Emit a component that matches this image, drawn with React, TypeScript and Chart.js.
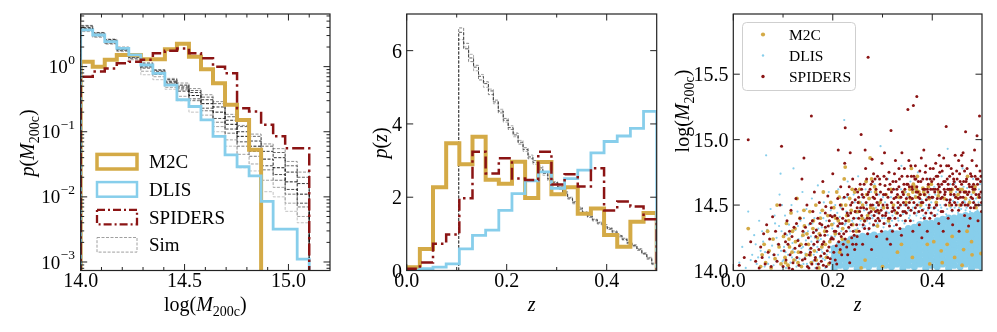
import React, { useEffect, useRef } from 'react';
import { Chart, registerables } from 'chart.js';
Chart.register(...registerables);

const FONT = '"Liberation Serif", "Times New Roman", serif';
const GOLD = '#D4AA46';
const SKY = '#87CEEB';
const DARKRED = '#8B1414';

// ---------------- Panel 1: mass histograms ----------------
const massBinLo = 14.0;
const massBinHi = 15.1;
const massBinCount = 19;
const m2cMass = [1.19, 1.0, 1.27, 1.51, 1.51, 1.3, 1.3, 1.85, 2.25, 1.42, 0.91, 0.556, 0.259, 0.152, 0.053];
const dlisMass = [3.66, 3.06, 2.42, 1.91, 1.51, 1.06, 0.79, 0.52, 0.31, 0.244, 0.152, 0.085, 0.044, 0.029, 0.021, 0.0085, 0.0032, 0.0032, 0.00111];
const spidersMass = [0.7, 0.84, 0.94, 1.13, 1.19, 1.27, 1.6, 1.75, 1.9, 1.6, 1.35, 1.0, 0.79, 0.23, 0.204, 0.128, 0.085, 0.056, 0.056];
const simMass1 = [3.9, 3.1, 2.45, 1.85, 1.42, 1.02, 0.82, 0.58, 0.47, 0.36, 0.27, 0.2, 0.13, 0.085, 0.06, 0.038, 0.028, 0.017, 0.011];
const simMass2 = [4.2, 3.3, 2.6, 1.95, 1.5, 1.1, 0.88, 0.63, 0.52, 0.4, 0.31, 0.24, 0.15, 0.1, 0.072, 0.05, 0.04, 0.024, 0.016];
const simMass3 = [3.6, 2.95, 2.3, 1.78, 1.35, 0.95, 0.76, 0.54, 0.42, 0.32, 0.23, 0.16, 0.11, 0.07, 0.05, 0.03, 0.022, 0.013, 0.008];
const simMass4 = [4.0, 3.2, 2.5, 1.9, 1.45, 1.06, 0.85, 0.6, 0.5, 0.43, 0.34, 0.27, 0.17, 0.12, 0.085, 0.06, 0.048, 0.03, 0.02];
const simMass5 = [3.8, 3.05, 2.4, 1.82, 1.38, 0.98, 0.79, 0.56, 0.44, 0.3, 0.21, 0.14, 0.095, 0.06, 0.042, 0.026, 0.018, 0.011, 0.007];
const simMass6 = [4.3, 3.35, 2.65, 2.0, 1.52, 1.15, 0.9, 0.66, 0.56, 0.46, 0.37, 0.29, 0.185, 0.125, 0.092, 0.065, 0.055, 0.035, 0.024];
const simMass7 = [3.5, 2.85, 2.25, 1.72, 1.3, 0.85, 0.7, 0.48, 0.35, 0.25, 0.18, 0.12, 0.075, 0.045, 0.032, 0.018, 0.014, 0.008, 0.005];
const simMass8 = [3.45, 2.8, 2.2, 1.7, 1.27, 0.75, 0.63, 0.45, 0.3, 0.2, 0.15, 0.1, 0.06, 0.028, 0.025, 0.012, 0.01, 0.006, 0.004];
const simMassRuns = [simMass1, simMass2, simMass3, simMass4, simMass5, simMass6, simMass7, simMass8];
const simShades = ['#000000', '#222222', '#3a3a3a', '#555555', '#666666', '#888888', '#9a9a9a', '#bbbbbb'];

const massTicks = [14.0, 14.5, 15.0];
const massTickLabels = ['14.0', '14.5', '15.0'];
const massMinorTicks = [14.1, 14.2, 14.3, 14.4, 14.6, 14.7, 14.8, 14.9, 15.1];
const densityDecades = [1, 0.1, 0.01, 0.001];
const densityExponents = ['0', '\u22121', '\u22122', '\u22123'];

// ---------------- Panel 2: redshift histograms ----------------
const zBinLo = 0.0;
const zBinHi = 0.5;
const zBinCount = 19;
const m2cZ = [0.09, 0.59, 2.27, 3.47, 2.9, 3.65, 2.48, 2.37, 2.97, 1.98, 2.96, 2.08, 2.27, 1.55, 1.69, 0.97, 0.65, 1.33, 1.57];
const dlisZ = [0.01, 0.05, 0.09, 0.18, 0.59, 0.96, 1.1, 1.64, 2.1, 2.45, 2.69, 2.24, 2.51, 2.74, 3.21, 3.52, 3.67, 3.88, 4.34];
const spidersZ = [0.05, 0.22, 0.73, 0.98, 1.97, 3.24, 2.65, 3.06, 2.51, 2.47, 3.24, 2.35, 2.63, 2.29, 2.79, 1.64, 1.88, 1.75, 1.4];
const simZLo = 0.104;
const simZHi = 0.5;
const simZBinCount = 40;
const simZ1 = [6.5, 6.05, 5.8, 5.55, 5.3, 5.1, 4.9, 4.6, 4.35, 4.1, 3.9, 3.7, 3.5, 3.3, 3.1, 2.95, 2.8, 2.65, 2.5, 2.4, 2.28, 2.12, 1.98, 1.85, 1.7, 1.56, 1.48, 1.38, 1.3, 1.22, 1.15, 1.05, 0.95, 0.85, 0.76, 0.68, 0.58, 0.46, 0.34, 0.18];
const simZ2 = [6.62, 6.2, 5.7, 5.6, 5.2, 5.15, 4.8, 4.65, 4.3, 4.15, 3.85, 3.75, 3.45, 3.35, 3.05, 3.0, 2.75, 2.7, 2.45, 2.42, 2.22, 2.15, 1.95, 1.88, 1.66, 1.6, 1.45, 1.4, 1.27, 1.25, 1.12, 1.08, 0.92, 0.88, 0.73, 0.7, 0.55, 0.48, 0.31, 0.2];
const simZ3 = [6.3, 6.1, 5.9, 5.45, 5.35, 5.0, 4.95, 4.55, 4.4, 4.05, 3.95, 3.65, 3.55, 3.25, 3.15, 2.9, 2.85, 2.6, 2.55, 2.36, 2.3, 2.1, 2.0, 1.82, 1.73, 1.53, 1.5, 1.35, 1.32, 1.2, 1.17, 1.02, 0.97, 0.83, 0.78, 0.65, 0.6, 0.44, 0.36, 0.16];
const simZRuns = [simZ1, simZ2, simZ3];
const simZShades = ['#333333', '#666666', '#999999'];

const zTicks = [0.0, 0.2, 0.4];
const zTickLabels = ['0.0', '0.2', '0.4'];
const zMinorTicks = [0.1, 0.3];
const pzTicks = [0, 2, 4, 6];
const pzTickLabels = ['0', '2', '4', '6'];

// ---------------- Panel 3: scatter ----------------
const scatterMassTicks = [14.0, 14.5, 15.0, 15.5];
const scatterMassLabels = ['14.0', '14.5', '15.0', '15.5'];

// dense DLIS core, one column of logM values per redshift
const dlisCoreZ = [0.203, 0.214, 0.226, 0.237, 0.249, 0.26, 0.272, 0.283, 0.295, 0.306, 0.318, 0.329, 0.341, 0.352, 0.364, 0.375, 0.387, 0.398, 0.41, 0.421, 0.433, 0.444, 0.456, 0.467, 0.479, 0.49, 0.499];
const dlisCoreM = [
  [14.02, 14.06, 14.1, 14.14, 14.17],
  [14.04, 14.08, 14.12, 14.16, 14.2],
  [14.03, 14.07, 14.1, 14.14, 14.18, 14.22],
  [14.05, 14.08, 14.12, 14.16, 14.2, 14.24],
  [14.02, 14.06, 14.1, 14.14, 14.18, 14.21, 14.25],
  [14.04, 14.08, 14.12, 14.16, 14.2, 14.23, 14.26],
  [14.03, 14.06, 14.1, 14.14, 14.18, 14.22, 14.26],
  [14.05, 14.08, 14.12, 14.16, 14.2, 14.24, 14.27],
  [14.02, 14.06, 14.1, 14.14, 14.18, 14.22, 14.26],
  [14.04, 14.08, 14.12, 14.16, 14.2, 14.24, 14.28],
  [14.03, 14.07, 14.1, 14.14, 14.18, 14.22, 14.26, 14.29],
  [14.05, 14.08, 14.12, 14.16, 14.2, 14.24, 14.28],
  [14.02, 14.06, 14.1, 14.14, 14.18, 14.22, 14.26, 14.3],
  [14.04, 14.08, 14.12, 14.16, 14.2, 14.24, 14.28, 14.32],
  [14.03, 14.07, 14.1, 14.14, 14.18, 14.22, 14.26, 14.3, 14.33],
  [14.05, 14.08, 14.12, 14.16, 14.2, 14.24, 14.28, 14.32, 14.35],
  [14.02, 14.06, 14.1, 14.14, 14.18, 14.22, 14.26, 14.3, 14.34, 14.36],
  [14.04, 14.08, 14.12, 14.16, 14.2, 14.24, 14.28, 14.32, 14.36],
  [14.03, 14.07, 14.1, 14.14, 14.18, 14.22, 14.26, 14.3, 14.34, 14.38],
  [14.05, 14.08, 14.12, 14.16, 14.2, 14.24, 14.28, 14.32, 14.36, 14.39],
  [14.02, 14.06, 14.1, 14.14, 14.18, 14.22, 14.26, 14.3, 14.34, 14.38, 14.4],
  [14.04, 14.08, 14.12, 14.16, 14.2, 14.24, 14.28, 14.32, 14.36, 14.4],
  [14.03, 14.07, 14.1, 14.14, 14.18, 14.22, 14.26, 14.3, 14.34, 14.38, 14.41],
  [14.05, 14.08, 14.12, 14.16, 14.2, 14.24, 14.28, 14.32, 14.36, 14.4, 14.42],
  [14.02, 14.06, 14.1, 14.14, 14.18, 14.22, 14.26, 14.3, 14.34, 14.38, 14.42],
  [14.04, 14.08, 14.12, 14.16, 14.2, 14.24, 14.28, 14.32, 14.36, 14.4, 14.43],
  [14.03, 14.07, 14.1, 14.14, 14.18, 14.22, 14.26, 14.3, 14.34, 14.38, 14.42],
];

const dlisSparse: [number, number][] = [
  [0.012, 14.06], [0.018, 14.18], [0.025, 14.02], [0.03, 14.45], [0.038, 14.12], [0.042, 14.27], [0.047, 14.05], [0.052, 14.38], [0.055, 14.15], [0.06, 14.22], [0.063, 14.03], [0.066, 14.88], [0.068, 14.31], [0.072, 14.1], [0.075, 14.47], [0.078, 14.19], [0.081, 14.04], [0.084, 14.36], [0.087, 14.25], [0.09, 14.12], [0.093, 14.58], [0.095, 14.74], [0.097, 14.3], [0.099, 14.07],
  [0.102, 14.18], [0.104, 14.42], [0.106, 14.02], [0.108, 14.27], [0.11, 14.12], [0.112, 14.35], [0.115, 14.06], [0.117, 14.5], [0.119, 14.21], [0.121, 14.78], [0.123, 14.14], [0.125, 14.31], [0.127, 14.03], [0.129, 14.45], [0.131, 14.24], [0.133, 14.09], [0.135, 14.38], [0.137, 14.17], [0.139, 14.6], [0.141, 14.05], [0.143, 14.29], [0.145, 14.13], [0.147, 14.47], [0.149, 14.2],
  [0.151, 14.03], [0.152, 14.35], [0.154, 14.11], [0.156, 14.26], [0.158, 14.55], [0.16, 14.07], [0.161, 14.19], [0.163, 14.4], [0.165, 14.02], [0.166, 14.3], [0.168, 14.14], [0.17, 14.65], [0.172, 14.23], [0.173, 14.05], [0.175, 14.44], [0.177, 14.16], [0.178, 14.33], [0.18, 14.09], [0.182, 14.52], [0.183, 14.21], [0.185, 14.02], [0.187, 14.38], [0.188, 14.12], [0.19, 14.27], [0.192, 14.6], [0.193, 14.06], [0.195, 14.18], [0.196, 14.46], [0.198, 14.1], [0.199, 14.32],
  [0.202, 14.36], [0.205, 14.5], [0.208, 14.28], [0.211, 14.62], [0.214, 14.41], [0.217, 14.3], [0.22, 14.55], [0.223, 15.15], [0.224, 14.35], [0.227, 14.45], [0.23, 14.68], [0.233, 14.32], [0.236, 14.5], [0.239, 14.38], [0.242, 14.58], [0.245, 14.31], [0.248, 14.44], [0.251, 14.72], [0.254, 14.35], [0.257, 14.52], [0.26, 14.33], [0.263, 14.46], [0.266, 14.62], [0.269, 14.38], [0.272, 14.31], [0.275, 14.55], [0.278, 14.42], [0.281, 14.34], [0.284, 14.66], [0.287, 14.48], [0.29, 14.36], [0.293, 14.58], [0.296, 14.95], [0.299, 14.4],
  [0.302, 14.33], [0.305, 14.52], [0.308, 14.45], [0.311, 14.7], [0.314, 14.36], [0.317, 14.56], [0.32, 14.42], [0.323, 14.34], [0.326, 14.62], [0.329, 14.48], [0.332, 14.38], [0.335, 14.55], [0.338, 14.8], [0.341, 14.43], [0.344, 14.36], [0.347, 14.6], [0.35, 14.5], [0.353, 14.4], [0.356, 14.68], [0.359, 14.46], [0.362, 14.38], [0.365, 14.57], [0.368, 14.42], [0.371, 14.75], [0.374, 14.52], [0.377, 14.4], [0.38, 14.62], [0.383, 14.47], [0.386, 14.41], [0.389, 14.56], [0.392, 14.7], [0.395, 14.44], [0.398, 14.52],
  [0.401, 14.42], [0.404, 14.64], [0.407, 14.48], [0.41, 14.43], [0.413, 14.58], [0.416, 14.5], [0.419, 14.72], [0.422, 14.45], [0.425, 14.55], [0.428, 14.43], [0.431, 14.93], [0.434, 14.62], [0.437, 14.48], [0.44, 14.45], [0.443, 14.57], [0.446, 14.67], [0.449, 14.5], [0.452, 14.44], [0.455, 14.6], [0.458, 14.47], [0.461, 14.78], [0.464, 14.53], [0.467, 14.46], [0.47, 14.63], [0.473, 14.5], [0.476, 14.45], [0.479, 14.58], [0.482, 14.7], [0.485, 14.48], [0.488, 14.55], [0.491, 14.46], [0.494, 14.62], [0.497, 14.5], [0.499, 15.0],
];
const dlisSparseMore: [number, number][] = [
  [0.035, 14.08], [0.045, 14.2], [0.05, 14.1], [0.058, 14.3], [0.064, 14.14], [0.07, 14.05], [0.074, 14.24], [0.08, 14.12], [0.083, 14.42], [0.086, 14.07], [0.089, 14.2], [0.092, 14.34], [0.096, 14.15], [0.098, 14.5],
  [0.101, 14.08], [0.105, 14.14], [0.109, 14.2], [0.111, 14.04], [0.114, 14.28], [0.118, 14.1], [0.12, 14.16], [0.124, 14.22], [0.126, 14.08], [0.13, 14.34], [0.132, 14.14], [0.136, 14.04], [0.138, 14.26], [0.14, 14.18], [0.142, 14.4], [0.144, 14.1], [0.146, 14.23], [0.148, 14.05], [0.15, 14.3], [0.153, 14.16], [0.155, 14.06], [0.157, 14.22], [0.159, 14.36], [0.162, 14.12], [0.164, 14.25], [0.167, 14.05], [0.169, 14.18], [0.171, 14.32], [0.174, 14.1], [0.176, 14.24], [0.179, 14.14], [0.181, 14.4], [0.184, 14.08], [0.186, 14.2], [0.189, 14.34], [0.191, 14.04], [0.194, 14.14], [0.197, 14.26], [0.199, 14.06],
  [0.204, 14.26], [0.209, 14.44], [0.212, 14.33], [0.216, 14.48], [0.219, 14.4], [0.222, 14.28], [0.226, 14.36], [0.229, 14.56], [0.232, 14.42], [0.235, 14.3], [0.238, 14.46], [0.241, 14.36], [0.244, 14.52], [0.247, 14.4], [0.25, 14.32], [0.253, 14.46], [0.256, 14.38], [0.259, 14.56], [0.262, 14.4], [0.265, 14.34], [0.268, 14.5], [0.271, 14.44], [0.274, 14.36], [0.277, 14.6], [0.28, 14.4], [0.283, 14.5], [0.286, 14.34], [0.289, 14.44], [0.292, 14.52], [0.295, 14.38], [0.298, 14.48],
  [0.301, 14.56], [0.304, 14.4], [0.307, 14.36], [0.31, 14.5], [0.313, 14.44], [0.316, 14.62], [0.319, 14.38], [0.322, 14.5], [0.325, 14.44], [0.328, 14.56], [0.331, 14.4], [0.334, 14.48], [0.337, 14.62], [0.34, 14.38], [0.343, 14.5], [0.346, 14.44], [0.349, 14.56], [0.352, 14.46], [0.355, 14.42], [0.358, 14.54], [0.361, 14.48], [0.364, 14.62], [0.367, 14.5], [0.37, 14.44], [0.373, 14.58], [0.376, 14.48], [0.379, 14.54], [0.382, 14.42], [0.385, 14.62], [0.388, 14.5], [0.391, 14.46], [0.394, 14.58], [0.397, 14.48],
  [0.4, 14.55], [0.403, 14.47], [0.406, 14.58], [0.409, 14.52], [0.412, 14.46], [0.415, 14.64], [0.418, 14.48], [0.421, 14.56], [0.424, 14.5], [0.427, 14.6], [0.43, 14.47], [0.433, 14.54], [0.436, 14.66], [0.439, 14.5], [0.442, 14.53], [0.445, 14.48], [0.448, 14.6], [0.451, 14.52], [0.454, 14.48], [0.457, 14.56], [0.46, 14.5], [0.463, 14.64], [0.466, 14.52], [0.469, 14.48], [0.472, 14.58], [0.475, 14.54], [0.478, 14.48], [0.481, 14.62], [0.484, 14.53], [0.487, 14.48], [0.49, 14.58], [0.493, 14.52], [0.496, 14.66], [0.499, 14.55],
];

const spidersPts: [number, number][] = [
  [0.012, 14.04], [0.022, 14.1], [0.03, 15.0], [0.035, 14.22], [0.045, 14.07],
  [0.052, 14.02], [0.055, 14.18], [0.058, 14.1], [0.061, 14.28], [0.064, 14.05], [0.067, 14.35], [0.07, 14.14], [0.073, 14.24], [0.076, 14.03], [0.079, 14.41], [0.082, 14.12], [0.085, 14.3], [0.088, 14.07], [0.091, 14.2], [0.094, 14.5], [0.097, 14.95],
  [0.1, 14.03], [0.102, 14.15], [0.104, 14.28], [0.106, 14.08], [0.108, 14.38], [0.11, 14.2], [0.112, 14.02], [0.114, 14.12], [0.116, 14.46], [0.118, 14.26], [0.12, 14.06], [0.122, 14.33], [0.124, 14.17], [0.126, 14.55], [0.128, 14.1], [0.13, 14.23], [0.132, 14.04], [0.134, 14.4], [0.136, 14.14], [0.138, 14.7], [0.14, 14.3], [0.142, 14.86], [0.144, 14.09], [0.146, 14.2], [0.148, 14.5], [0.149, 14.03],
  [0.151, 14.25], [0.153, 14.12], [0.155, 14.36], [0.157, 15.18], [0.158, 14.05], [0.16, 14.45], [0.162, 14.2], [0.163, 14.6], [0.165, 14.1], [0.167, 14.31], [0.168, 14.02], [0.17, 14.4], [0.172, 14.16], [0.173, 14.52], [0.175, 14.27], [0.177, 14.07], [0.178, 14.35], [0.18, 14.68], [0.182, 14.22], [0.183, 14.13], [0.185, 14.44], [0.187, 14.03], [0.188, 14.3], [0.19, 14.57], [0.192, 14.18], [0.193, 14.38], [0.195, 14.09], [0.197, 14.48], [0.198, 14.25], [0.2, 14.74],
  [0.202, 14.14], [0.204, 14.42], [0.206, 14.3], [0.208, 14.05], [0.21, 14.55], [0.212, 14.22], [0.214, 14.36], [0.216, 14.64], [0.218, 14.12], [0.22, 14.47], [0.222, 14.28], [0.224, 14.82], [0.225, 15.09], [0.226, 14.38], [0.228, 14.18], [0.23, 14.58], [0.232, 14.33], [0.234, 14.06], [0.236, 14.5], [0.238, 14.25], [0.24, 14.7], [0.242, 14.4], [0.244, 14.16], [0.246, 14.62], [0.248, 14.35], [0.249, 14.48], [0.211, 14.92], [0.217, 14.26], [0.229, 14.44], [0.241, 14.3], [0.235, 14.9], [0.247, 14.2],
  [0.251, 14.52], [0.253, 14.3], [0.255, 14.66], [0.257, 15.04], [0.258, 14.42], [0.26, 14.2], [0.262, 14.56], [0.264, 14.38], [0.266, 14.78], [0.268, 14.47], [0.27, 14.28], [0.271, 15.63], [0.272, 14.6], [0.274, 14.4], [0.276, 14.5], [0.278, 14.16], [0.28, 14.68], [0.282, 14.35], [0.284, 14.55], [0.286, 14.45], [0.288, 14.26], [0.29, 14.72], [0.292, 14.5], [0.294, 14.38], [0.296, 14.6], [0.298, 14.3], [0.265, 14.92], [0.279, 14.85], [0.287, 14.62], [0.293, 14.44], [0.259, 14.58], [0.299, 14.82],
  [0.301, 14.5], [0.303, 14.36], [0.305, 14.65], [0.307, 14.44], [0.309, 14.24], [0.311, 14.56], [0.313, 14.75], [0.315, 14.4], [0.317, 15.07], [0.318, 14.52], [0.32, 14.3], [0.322, 14.62], [0.324, 14.46], [0.326, 14.84], [0.328, 14.35], [0.33, 14.58], [0.332, 14.48], [0.334, 14.7], [0.336, 14.42], [0.338, 14.27], [0.34, 14.6], [0.342, 14.52], [0.344, 14.78], [0.346, 14.38], [0.348, 14.55], [0.349, 14.66], [0.304, 14.9], [0.316, 14.2], [0.327, 14.68], [0.339, 14.9], [0.345, 14.45], [0.335, 14.32],
  [0.351, 15.23], [0.352, 14.48], [0.354, 14.64], [0.356, 14.38], [0.358, 14.72], [0.36, 14.55], [0.362, 15.26], [0.364, 14.44], [0.366, 14.8], [0.368, 14.6], [0.369, 15.33], [0.37, 14.5], [0.372, 14.68], [0.374, 14.35], [0.376, 14.58], [0.378, 14.86], [0.38, 14.46], [0.382, 14.62], [0.384, 14.4], [0.386, 14.75], [0.388, 14.54], [0.39, 14.3], [0.392, 14.66], [0.394, 14.5], [0.396, 14.78], [0.398, 14.44], [0.353, 14.84], [0.361, 14.3], [0.367, 14.7], [0.375, 14.55], [0.383, 14.92], [0.391, 14.6], [0.379, 14.25], [0.397, 14.62],
  [0.401, 14.56], [0.403, 14.7], [0.405, 14.42], [0.407, 14.82], [0.409, 14.5], [0.411, 14.62], [0.413, 14.36], [0.415, 14.75], [0.417, 14.55], [0.419, 14.66], [0.421, 14.45], [0.423, 14.86], [0.425, 14.58], [0.427, 14.5], [0.428, 15.1], [0.43, 14.7], [0.432, 14.4], [0.434, 14.62], [0.436, 14.54], [0.438, 14.78], [0.44, 14.46], [0.442, 14.66], [0.444, 14.58], [0.446, 14.88], [0.448, 14.5], [0.406, 14.62], [0.414, 14.88], [0.422, 14.3], [0.433, 14.8], [0.441, 14.35],
  [0.451, 14.62], [0.453, 14.46], [0.455, 14.74], [0.457, 14.56], [0.459, 14.88], [0.461, 14.52], [0.463, 14.68], [0.465, 14.42], [0.467, 15.06], [0.468, 14.6], [0.47, 14.78], [0.472, 14.5], [0.474, 14.66], [0.476, 14.4], [0.478, 14.56], [0.48, 14.84], [0.482, 14.62], [0.484, 14.48], [0.486, 14.72], [0.488, 14.58], [0.49, 15.03], [0.491, 14.66], [0.493, 14.5], [0.495, 15.18], [0.496, 14.76], [0.498, 14.6], [0.499, 14.45], [0.454, 14.3], [0.462, 14.9], [0.473, 14.34], [0.485, 14.92], [0.492, 14.38],
];
const spidersPtsMore: [number, number][] = [
  [0.105, 14.22], [0.113, 14.3], [0.119, 14.01], [0.127, 14.36], [0.133, 14.19], [0.139, 14.08], [0.145, 14.33], [0.152, 14.02], [0.156, 14.17], [0.161, 14.29], [0.164, 14.08], [0.169, 14.22], [0.174, 14.36], [0.176, 14.11], [0.181, 14.04], [0.184, 14.27], [0.186, 14.49], [0.189, 14.15], [0.191, 14.34], [0.194, 14.06], [0.196, 14.24], [0.199, 14.41],
  [0.203, 14.3], [0.207, 14.19], [0.209, 14.4], [0.213, 14.28], [0.215, 14.5], [0.219, 14.36], [0.221, 14.2], [0.223, 14.56], [0.227, 14.3], [0.231, 14.42], [0.233, 14.64], [0.237, 14.35], [0.239, 14.52], [0.243, 14.27], [0.245, 14.45], [0.25, 14.6], [0.252, 14.4], [0.256, 14.48], [0.261, 14.35], [0.263, 14.66], [0.267, 14.52], [0.269, 14.4], [0.273, 14.32], [0.275, 14.62], [0.277, 14.45], [0.281, 14.56], [0.283, 14.42], [0.285, 14.7], [0.289, 14.52], [0.291, 14.4], [0.295, 14.66], [0.297, 14.46],
  [0.302, 14.58], [0.306, 14.42], [0.308, 14.7], [0.31, 14.48], [0.312, 14.62], [0.314, 14.34], [0.319, 14.45], [0.321, 14.68], [0.323, 14.55], [0.325, 14.4], [0.329, 14.62], [0.331, 14.52], [0.333, 14.78], [0.337, 14.56], [0.341, 14.45], [0.343, 14.66], [0.347, 14.5], [0.35, 14.72], [0.355, 14.56], [0.357, 14.46], [0.359, 14.64], [0.363, 14.52], [0.365, 14.7], [0.371, 14.6], [0.373, 14.45], [0.377, 14.68], [0.381, 14.52], [0.385, 14.62], [0.387, 14.44], [0.389, 14.7], [0.393, 14.56], [0.395, 14.4], [0.399, 14.68],
  [0.402, 14.62], [0.404, 14.48], [0.408, 14.72], [0.41, 14.55], [0.412, 14.66], [0.416, 14.6], [0.418, 14.45], [0.42, 14.76], [0.424, 14.62], [0.426, 14.68], [0.429, 14.54], [0.431, 14.62], [0.435, 14.72], [0.437, 14.58], [0.439, 14.5], [0.443, 14.7], [0.445, 14.52], [0.447, 14.64], [0.449, 14.76], [0.452, 14.55], [0.456, 14.68], [0.458, 14.5], [0.46, 14.8], [0.464, 14.6], [0.466, 14.5], [0.469, 14.7], [0.471, 14.58], [0.475, 14.64], [0.477, 14.48], [0.479, 14.72], [0.481, 14.55], [0.483, 14.66], [0.487, 14.5], [0.489, 14.7], [0.494, 14.58], [0.497, 14.68], [0.499, 14.52],
];
const spidersPtsExtra: [number, number][] = [
  [0.155, 14.14], [0.159, 14.38], [0.166, 14.26], [0.171, 14.05], [0.179, 14.2], [0.185, 14.33], [0.19, 14.1], [0.195, 14.42], [0.201, 14.24], [0.205, 14.08], [0.21, 14.34], [0.215, 14.16], [0.22, 14.4], [0.225, 14.24], [0.23, 14.12], [0.236, 14.44], [0.24, 14.2], [0.245, 14.54], [0.249, 14.26],
  [0.252, 14.56], [0.254, 14.45], [0.258, 14.62], [0.262, 14.48], [0.264, 14.32], [0.268, 14.7], [0.27, 14.58], [0.273, 14.44], [0.277, 14.66], [0.28, 14.5], [0.282, 14.74], [0.286, 14.38], [0.288, 14.58], [0.29, 14.46], [0.294, 14.7], [0.297, 14.54], [0.3, 14.42],
  [0.303, 14.72], [0.306, 14.58], [0.309, 14.5], [0.312, 14.4], [0.315, 14.66], [0.318, 14.6], [0.321, 14.48], [0.324, 14.74], [0.327, 14.56], [0.33, 14.44], [0.333, 14.64], [0.336, 14.5], [0.339, 14.72], [0.342, 14.58], [0.345, 14.62], [0.348, 14.44],
  [0.351, 14.66], [0.354, 14.52], [0.357, 14.8], [0.36, 14.62], [0.363, 14.72], [0.366, 14.48], [0.369, 14.64], [0.372, 14.56], [0.375, 14.76], [0.378, 14.52], [0.381, 14.7], [0.384, 14.58], [0.387, 14.8], [0.39, 14.62], [0.393, 14.48], [0.396, 14.7], [0.399, 14.56],
  [0.402, 14.78], [0.405, 14.6], [0.408, 14.5], [0.411, 14.72], [0.414, 14.64], [0.417, 14.8], [0.42, 14.56], [0.423, 14.68], [0.426, 14.6], [0.429, 14.8], [0.432, 14.66], [0.435, 14.52], [0.438, 14.62], [0.441, 14.74], [0.444, 14.68], [0.447, 14.56],
  [0.45, 14.7], [0.453, 14.84], [0.456, 14.6], [0.459, 14.66], [0.462, 14.56], [0.465, 14.76], [0.468, 14.68], [0.471, 14.5], [0.474, 14.6], [0.477, 14.74], [0.48, 14.64], [0.483, 14.52], [0.486, 14.62], [0.489, 14.8], [0.492, 14.7], [0.495, 14.56], [0.498, 14.72],
];

const m2cPts: [number, number][] = [
  [0.03, 14.32], [0.055, 14.03], [0.058, 14.12], [0.062, 14.2], [0.065, 14.06], [0.069, 14.3], [0.072, 14.15], [0.076, 14.02], [0.08, 14.24], [0.084, 14.09], [0.088, 14.5], [0.092, 14.18], [0.096, 14.05],
  [0.101, 14.26], [0.104, 14.1], [0.107, 14.36], [0.11, 14.04], [0.113, 14.18], [0.116, 14.44], [0.119, 14.3], [0.122, 14.08], [0.125, 14.22], [0.128, 14.55], [0.131, 14.14], [0.134, 14.4], [0.137, 14.03], [0.14, 14.27], [0.143, 14.34], [0.147, 14.12],
  [0.151, 14.2], [0.154, 14.45], [0.157, 14.06], [0.16, 14.32], [0.163, 14.15], [0.166, 14.5], [0.169, 14.25], [0.172, 14.02], [0.175, 14.4], [0.178, 14.18], [0.181, 14.6], [0.184, 14.3], [0.187, 14.1], [0.19, 14.42], [0.194, 14.22], [0.198, 14.35],
  [0.202, 14.48], [0.205, 14.28], [0.208, 14.6], [0.211, 14.38], [0.214, 14.14], [0.217, 14.5], [0.22, 14.32], [0.223, 14.7], [0.225, 14.79], [0.228, 14.42], [0.231, 14.22], [0.234, 14.55], [0.237, 14.46], [0.24, 14.35], [0.244, 14.6], [0.248, 14.3],
  [0.251, 14.45], [0.254, 14.62], [0.257, 14.02], [0.26, 14.5], [0.264, 14.38], [0.267, 14.68], [0.27, 14.42], [0.273, 14.55], [0.275, 14.86], [0.278, 14.7], [0.282, 14.47], [0.286, 14.6], [0.29, 14.34], [0.295, 14.52], [0.265, 14.08], [0.3, 14.03],
  [0.302, 14.48], [0.307, 14.58], [0.312, 14.38], [0.317, 14.62], [0.322, 14.5], [0.328, 14.44], [0.333, 14.56], [0.338, 14.2], [0.343, 14.6], [0.347, 14.52],
  [0.352, 14.58], [0.355, 14.62], [0.358, 14.78], [0.361, 14.6], [0.364, 14.64], [0.367, 14.56], [0.37, 14.72], [0.373, 14.6], [0.377, 14.5], [0.381, 14.63], [0.385, 14.58], [0.39, 14.2], [0.394, 14.55], [0.398, 14.66], [0.36, 14.1],
  [0.403, 14.22], [0.408, 14.52], [0.413, 14.6], [0.418, 14.15], [0.424, 14.55], [0.43, 14.2], [0.435, 14.5], [0.44, 14.62], [0.445, 14.1], [0.448, 14.56], [0.42, 14.06],
  [0.452, 14.58], [0.456, 14.5], [0.46, 14.62], [0.463, 14.16], [0.467, 14.55], [0.471, 14.72], [0.475, 14.52], [0.479, 14.22], [0.483, 14.6], [0.488, 14.48], [0.493, 14.56], [0.498, 14.13], [0.46, 14.04], [0.48, 14.12],
];
const m2cPtsMore: [number, number][] = [
  [0.105, 14.06], [0.112, 14.24], [0.118, 14.14], [0.124, 14.32], [0.13, 14.06], [0.136, 14.2], [0.142, 14.46], [0.148, 14.28], [0.155, 14.12], [0.161, 14.38], [0.167, 14.08], [0.173, 14.28], [0.179, 14.46], [0.185, 14.2], [0.192, 14.05], [0.196, 14.52],
  [0.206, 14.4], [0.213, 14.56], [0.219, 14.24], [0.226, 14.5], [0.232, 14.38], [0.239, 14.62], [0.246, 14.45], [0.253, 14.52], [0.259, 14.4], [0.268, 14.58], [0.276, 14.48], [0.284, 14.64], [0.292, 14.45],
  [0.356, 14.55], [0.362, 14.66], [0.368, 14.62], [0.375, 14.58], [0.383, 14.6], [0.392, 14.64], [0.412, 14.57], [0.437, 14.6], [0.455, 14.62], [0.466, 14.6], [0.486, 14.64], [0.44, 14.26], [0.47, 14.3], [0.33, 14.14], [0.395, 14.05],
];

const legendLabels = ['M2C', 'DLIS', 'SPIDERS', 'Sim'];

// ---------------- helpers ----------------
type Seg = { t: string; it?: boolean; sub?: boolean };
const segFont = (s: Seg, size: number) => `${s.it ? 'italic ' : ''}${s.sub ? (size * 0.7).toFixed(1) : size}px ${FONT}`;

function drawRich(ctx: CanvasRenderingContext2D, segs: Seg[], x: number, y: number, size: number, rotate: boolean) {
  ctx.save();
  ctx.translate(x, y);
  if (rotate) ctx.rotate(-Math.PI / 2);
  ctx.textAlign = 'left';
  ctx.textBaseline = 'alphabetic';
  const widths = segs.map((s) => { ctx.font = segFont(s, size); return ctx.measureText(s.t).width; });
  const total = widths.reduce((a, b) => a + b, 0);
  let cx = -total / 2;
  segs.forEach((s, i) => {
    ctx.font = segFont(s, size);
    ctx.fillText(s.t, cx, s.sub ? size * 0.24 : 0);
    cx += widths[i];
  });
  ctx.restore();
}

const binEdges = (lo: number, hi: number, n: number) => Array.from({ length: n + 1 }, (_, i) => lo + ((hi - lo) * i) / n);

function stepData(edges: number[], vals: number[], floor: number) {
  const pts = [{ x: edges[0], y: floor }];
  vals.forEach((v, i) => pts.push({ x: edges[i], y: v }));
  pts.push({ x: edges[vals.length], y: vals[vals.length - 1] });
  pts.push({ x: edges[vals.length], y: floor });
  return pts;
}

type AxisCfg = {
  xMajor: number[]; xMinor: number[]; xLabels: string[];
  yMajor: number[]; yMinor: number[]; yLabels?: string[]; yExps?: string[];
  yLabelRight: number;
  xTitle: Seg[]; yTitle: Seg[]; yTitleX: number; yTitleY: number;
  extra?: (ctx: CanvasRenderingContext2D) => void;
};

function axesPlugin(cfg: AxisCfg) {
  return {
    id: 'axesFrame',
    afterDraw(chart: any) {
      const { ctx, chartArea: a, scales } = chart;
      const xs = scales.x, ys = scales.y;
      ctx.save();
      ctx.strokeStyle = '#222';
      ctx.lineWidth = 1;
      const seg = (x0: number, y0: number, x1: number, y1: number) => { ctx.beginPath(); ctx.moveTo(x0, y0); ctx.lineTo(x1, y1); ctx.stroke(); };
      const drawX = (vals: number[], len: number) => vals.forEach((v) => {
        const p = xs.getPixelForValue(v);
        if (p < a.left - 0.5 || p > a.right + 0.5) return;
        seg(p, a.bottom, p, a.bottom - len); seg(p, a.top, p, a.top + len);
      });
      const drawY = (vals: number[], len: number) => vals.forEach((v) => {
        const p = ys.getPixelForValue(v);
        if (p < a.top - 0.5 || p > a.bottom + 0.5) return;
        seg(a.left, p, a.left + len, p); seg(a.right, p, a.right - len, p);
      });
      drawX(cfg.xMajor, 6.5); drawX(cfg.xMinor, 3.5);
      drawY(cfg.yMajor, 6.5); drawY(cfg.yMinor, 3.5);
      ctx.lineWidth = 1.2;
      ctx.strokeRect(a.left, a.top, a.right - a.left, a.bottom - a.top);

      ctx.fillStyle = '#000';
      ctx.textBaseline = 'alphabetic';
      ctx.font = `20px ${FONT}`;
      ctx.textAlign = 'center';
      cfg.xMajor.forEach((v, i) => ctx.fillText(cfg.xLabels[i], xs.getPixelForValue(v), 287));
      ctx.textAlign = 'right';
      cfg.yMajor.forEach((v, i) => {
        const p = ys.getPixelForValue(v);
        if (cfg.yExps) {
          ctx.font = `13.5px ${FONT}`;
          const e = cfg.yExps[i];
          const ew = ctx.measureText(e).width;
          ctx.fillText(e, cfg.yLabelRight, p - 2.5);
          ctx.font = `19px ${FONT}`;
          ctx.fillText('10', cfg.yLabelRight - ew - 0.5, p + 6.6);
        } else if (cfg.yLabels) {
          ctx.font = `20px ${FONT}`;
          ctx.fillText(cfg.yLabels[i], cfg.yLabelRight, p + 7);
        }
      });
      drawRich(ctx, cfg.xTitle, (a.left + a.right) / 2, 311, 20, false);
      drawRich(ctx, cfg.yTitle, cfg.yTitleX, cfg.yTitleY, 20, true);
      if (cfg.extra) cfg.extra(ctx);
      ctx.restore();
    },
  };
}

const H = 332, W = 997, TOP = 14, BOTTOM = 270.5;
const pad = (left: number, right: number) => ({ left, right: W - right, top: TOP, bottom: H - BOTTOM });
const baseOpts = (padding: any, scales: any) => ({
  responsive: false,
  animation: false,
  devicePixelRatio: 1,
  events: [],
  layout: { padding },
  scales,
  plugins: { legend: { display: false }, tooltip: { enabled: false } },
  elements: { point: { radius: 0 }, line: { tension: 0 } },
});

const massTitle: Seg[] = [{ t: 'log(' }, { t: 'M', it: true }, { t: '200c', sub: true }, { t: ')' }];

function buildMassChart(canvas: HTMLCanvasElement) {
  const edges = binEdges(massBinLo, massBinHi, massBinCount);
  const floor = 1e-6;
  const line = (vals: number[], color: string, width: number, dash: number[], order: number) => ({
    data: stepData(edges, vals, floor), borderColor: color, borderWidth: width, borderDash: dash,
    stepped: true, pointRadius: 0, fill: false, order, clip: 0,
  });
  const datasets: any[] = [
    line(spidersMass, DARKRED, 2.5, [12, 4, 2.5, 4], 1),
    line(dlisMass, SKY, 2.8, [], 2),
    line(m2cMass, GOLD, 4, [], 3),
    ...simMassRuns.map((r, i) => line(r, simShades[i], 0.9, [3, 1.5], 10 + i)),
  ];
  const yMinor: number[] = [];
  for (let e = -4; e <= 0; e++) for (let k = 2; k <= 9; k++) yMinor.push(k * Math.pow(10, e));
  const legendStyles = [
    { color: GOLD, width: 3.5, dash: [] as number[] },
    { color: SKY, width: 2.5, dash: [] as number[] },
    { color: DARKRED, width: 2.3, dash: [8, 3, 2, 3] },
    { color: '#888', width: 0.8, dash: [3, 1.5] },
  ];
  return new Chart(canvas, {
    type: 'line',
    data: { datasets },
    options: baseOpts(pad(80.7, 330), {
      x: { type: 'linear', min: 14.0, max: 15.2, display: false },
      y: { type: 'logarithmic', min: 7.4e-4, max: 6.43, display: false },
    }) as any,
    plugins: [axesPlugin({
      xMajor: massTicks, xMinor: massMinorTicks, xLabels: massTickLabels,
      yMajor: densityDecades, yMinor, yExps: densityExponents, yLabelRight: 75,
      xTitle: massTitle,
      yTitle: [{ t: 'p', it: true }, { t: '(' }, { t: 'M', it: true }, { t: '200c', sub: true }, { t: ')' }],
      yTitleX: 34, yTitleY: 143,
      extra: (ctx) => {
        legendLabels.forEach((lab, i) => {
          const cy = 161.7 + i * 27.7;
          const st = legendStyles[i];
          ctx.save();
          ctx.strokeStyle = st.color; ctx.lineWidth = st.width; ctx.setLineDash(st.dash);
          ctx.strokeRect(97, cy - 7.3, 40, 14.6);
          ctx.restore();
          ctx.fillStyle = '#000'; ctx.textAlign = 'left'; ctx.font = `19px ${FONT}`;
          ctx.fillText(lab, 149, cy + 6.5);
        });
      },
    })],
  });
}

function buildZChart(canvas: HTMLCanvasElement) {
  const edges = binEdges(zBinLo, zBinHi, zBinCount);
  const simEdges = binEdges(simZLo, simZHi, simZBinCount);
  const line = (e: number[], vals: number[], color: string, width: number, dash: number[], order: number) => ({
    data: stepData(e, vals, 0), borderColor: color, borderWidth: width, borderDash: dash,
    stepped: true, pointRadius: 0, fill: false, order, clip: 0,
  });
  const datasets: any[] = [
    line(edges, spidersZ, DARKRED, 2.5, [12, 4, 2.5, 4], 1),
    line(edges, dlisZ, SKY, 2.8, [], 2),
    line(edges, m2cZ, GOLD, 4, [], 3),
    ...simZRuns.map((r, i) => line(simEdges, r, simZShades[i], 0.8, [3, 1.5], 10 + i)),
  ];
  return new Chart(canvas, {
    type: 'line',
    data: { datasets },
    options: baseOpts(pad(406.7, 656.7), {
      x: { type: 'linear', min: 0, max: 0.5, display: false },
      y: { type: 'linear', min: 0, max: 7, display: false },
    }) as any,
    plugins: [axesPlugin({
      xMajor: zTicks, xMinor: zMinorTicks, xLabels: zTickLabels,
      yMajor: pzTicks, yMinor: [], yLabels: pzTickLabels, yLabelRight: 402,
      xTitle: [{ t: 'z', it: true }],
      yTitle: [{ t: 'p', it: true }, { t: '(' }, { t: 'z', it: true }, { t: ')' }],
      yTitleX: 387, yTitleY: 143,
    })],
  });
}

function buildScatterChart(canvas: HTMLCanvasElement) {
  const toXY = (arr: [number, number][]) => arr.map(([z, m]) => ({ x: z, y: m }));
  const corePts = dlisCoreZ.flatMap((z, i) => dlisCoreM[i].map((m) => ({ x: z, y: m })));
  const pts = (data: any[], color: string, r: number, order: number) => ({
    data, backgroundColor: color, borderWidth: 0, pointRadius: r, pointHoverRadius: r, order, clip: 0,
  });
  const datasets: any[] = [
    pts(toXY([...spidersPts, ...spidersPtsMore, ...spidersPtsExtra]), DARKRED, 1.5, 0),
    pts(toXY([...m2cPts, ...m2cPtsMore]), GOLD, 1.9, 1),
    pts(toXY([...dlisSparse, ...dlisSparseMore]), SKY, 1.1, 2),
    pts(corePts, SKY, 3.6, 3),
  ];
  const legendColors = [GOLD, SKY, DARKRED];
  const legendRadii = [2.1, 1.2, 1.7];
  return new Chart(canvas, {
    type: 'scatter',
    data: { datasets },
    options: baseOpts(pad(733.3, 982), {
      x: { type: 'linear', min: 0, max: 0.5, display: false },
      y: { type: 'linear', min: 14.0, max: 15.96, display: false },
    }) as any,
    plugins: [axesPlugin({
      xMajor: zTicks, xMinor: zMinorTicks, xLabels: zTickLabels,
      yMajor: scatterMassTicks, yMinor: [], yLabels: scatterMassLabels, yLabelRight: 728.5,
      xTitle: [{ t: 'z', it: true }],
      yTitle: massTitle,
      yTitleX: 689, yTitleY: 111,
      extra: (ctx) => {
        ctx.save();
        ctx.beginPath();
        (ctx as any).roundRect(742.5, 22.5, 113, 68, 4);
        ctx.fillStyle = 'rgba(255,255,255,0.85)';
        ctx.fill();
        ctx.strokeStyle = '#cfcfcf'; ctx.lineWidth = 1;
        ctx.stroke();
        legendLabels.slice(0, 3).forEach((lab, i) => {
          const cy = 34.5 + i * 21;
          ctx.beginPath();
          ctx.fillStyle = legendColors[i];
          ctx.arc(763, cy, legendRadii[i], 0, Math.PI * 2);
          ctx.fill();
          ctx.fillStyle = '#000'; ctx.textAlign = 'left'; ctx.font = `15.5px ${FONT}`;
          ctx.fillText(lab, 789, cy + 5.3);
        });
        ctx.restore();
      },
    })],
  });
}

export default function App() {
  const c1 = useRef<HTMLCanvasElement>(null);
  const c2 = useRef<HTMLCanvasElement>(null);
  const c3 = useRef<HTMLCanvasElement>(null);
  useEffect(() => {
    const charts = [buildMassChart(c1.current!), buildZChart(c2.current!), buildScatterChart(c3.current!)];
    return () => charts.forEach((c) => c.destroy());
  }, []);
  const cs: React.CSSProperties = { position: 'absolute', left: 0, top: 0 };
  return (
    <div style={{ position: 'absolute', left: 0, top: 0, width: W, height: H, background: '#fff', overflow: 'hidden' }}>
      <canvas ref={c1} width={W} height={H} style={cs} />
      <canvas ref={c2} width={W} height={H} style={cs} />
      <canvas ref={c3} width={W} height={H} style={cs} />
    </div>
  );
}
